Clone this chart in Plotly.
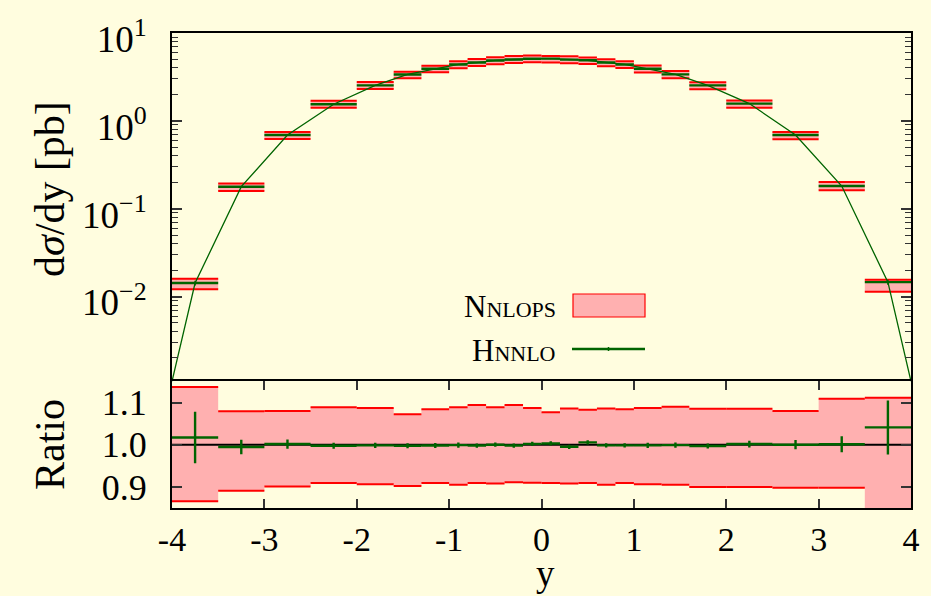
import plotly.graph_objects as go

# ---------------- data ----------------
bin_edges = [-4, -3.5, -3, -2.5, -2, -1.6, -1.3, -1, -0.8, -0.6, -0.4, -0.2, 0,
             0.2, 0.4, 0.6, 0.8, 1, 1.3, 1.6, 2, 2.5, 3, 3.5, 4]

nnlops_central = [0.0140, 0.179, 0.689, 1.55, 2.54, 3.38, 3.92, 4.39, 4.62, 4.87, 5.00, 5.09,
                  5.09, 5.00, 4.87, 4.62, 4.39, 3.92, 3.38, 2.54, 1.57, 0.689, 0.181, 0.0140]

nnlops_up_rel = [0.137, 0.079, 0.080, 0.089, 0.087, 0.072, 0.084, 0.089, 0.094, 0.089, 0.094, 0.087,
                 0.077, 0.086, 0.083, 0.086, 0.084, 0.087, 0.090, 0.085, 0.085, 0.080, 0.109, 0.111]

nnlops_down_rel = [-0.134, -0.109, -0.099, -0.091, -0.094, -0.098, -0.091, -0.095, -0.091, -0.092, -0.089, -0.090,
                   -0.091, -0.092, -0.091, -0.095, -0.091, -0.094, -0.095, -0.100, -0.100, -0.102, -0.102, -0.190]

hnnlo_ratio = [1.017, 0.9945, 1.0016, 0.9976, 0.9984, 0.9976, 0.998, 0.999, 0.998, 1.000, 0.998, 1.002,
               1.003, 0.995, 1.0055, 0.9984, 0.9984, 0.9984, 0.999, 0.997, 1.0016, 1.000, 1.001, 1.041]

hnnlo_err_rel = [0.061, 0.017, 0.011, 0.007, 0.006, 0.006, 0.006, 0.006, 0.005, 0.005, 0.005, 0.005,
                 0.005, 0.005, 0.005, 0.005, 0.005, 0.006, 0.006, 0.006, 0.008, 0.011, 0.019, 0.064]

hnnlo_edge_value = 1.08e-3   # curve end points at y = -4 and y = 4

x_tick_values = [-4, -3, -2, -1, 0, 1, 2, 3, 4]
x_tick_labels = ["-4", "-3", "-2", "-1", "0", "1", "2", "3", "4"]
log_tick_values = [0.01, 0.1, 1, 10]
log_tick_labels = ["10<sup>\u22122</sup>", "10<sup>\u22121</sup>", "10<sup>0</sup>", "10<sup>1</sup>"]
ratio_tick_values = [0.9, 1.0, 1.1]
ratio_tick_labels = ["0.9", "1.0", "1.1"]

# ---------------- derived ----------------
lo_e = bin_edges[:-1]
hi_e = bin_edges[1:]
centers = [(a + b) / 2 for a, b in zip(lo_e, hi_e)]
halfw = [(b - a) / 2 for a, b in zip(lo_e, hi_e)]
hnnlo = [c * r for c, r in zip(nnlops_central, hnnlo_ratio)]

top_up = [c * (1 + u) for c, u in zip(nnlops_central, nnlops_up_rel)]
top_dn = [c * (1 + d) for c, d in zip(nnlops_central, nnlops_down_rel)]
rat_up = [1 + u for u in nnlops_up_rel]
rat_dn = [1 + d for d in nnlops_down_rel]


def rects(lows, highs):
    xs, ys = [], []
    for a, b, l, h in zip(lo_e, hi_e, lows, highs):
        xs += [a, b, b, a, a, None]
        ys += [l, l, h, h, l, None]
    return xs, ys


def hsegs(vals):
    xs, ys = [], []
    for a, b, v in zip(lo_e, hi_e, vals):
        xs += [a, b, None]
        ys += [v, v, None]
    return xs, ys


PINK = "#FFB0B0"
RED = "#FF0000"
GREEN = "#006400"
BG = "#FFFDDF"
FONT = "Liberation Serif"

fig = go.Figure()

# ---- top panel ----
bx, by = rects(top_dn, top_up)
fig.add_trace(go.Scatter(x=bx, y=by, fill="toself", fillcolor=PINK, mode="lines",
                         line=dict(width=0), xaxis="x", yaxis="y", showlegend=False, hoverinfo="skip"))
for vals in (top_up, top_dn):
    sx, sy = hsegs(vals)
    fig.add_trace(go.Scatter(x=sx, y=sy, mode="lines", line=dict(color=RED, width=2),
                             xaxis="x", yaxis="y", showlegend=False, hoverinfo="skip"))
fig.add_trace(go.Scatter(x=[bin_edges[0]] + centers + [bin_edges[-1]],
                         y=[hnnlo_edge_value] + hnnlo + [hnnlo_edge_value],
                         mode="lines", line=dict(color=GREEN, width=1.3),
                         xaxis="x", yaxis="y", showlegend=False))
fig.add_trace(go.Scatter(x=centers, y=hnnlo, mode="markers", marker=dict(size=1, color=GREEN),
                         error_x=dict(type="data", array=halfw, width=0, thickness=2.4, color=GREEN),
                         error_y=dict(type="data", array=[h * e for h, e in zip(hnnlo, hnnlo_err_rel)],
                                      width=0, thickness=1.5, color=GREEN),
                         xaxis="x", yaxis="y", showlegend=False))

# ---- ratio panel ----
rx, ry = rects(rat_dn, rat_up)
fig.add_trace(go.Scatter(x=rx, y=ry, fill="toself", fillcolor=PINK, mode="lines",
                         line=dict(width=0), xaxis="x2", yaxis="y2", showlegend=False, hoverinfo="skip"))
for vals in (rat_up, rat_dn):
    sx, sy = hsegs(vals)
    fig.add_trace(go.Scatter(x=sx, y=sy, mode="lines", line=dict(color=RED, width=2),
                             xaxis="x2", yaxis="y2", showlegend=False, hoverinfo="skip"))
fig.add_trace(go.Scatter(x=[bin_edges[0], bin_edges[-1]], y=[1, 1], mode="lines",
                         line=dict(color="black", width=2), xaxis="x2", yaxis="y2",
                         showlegend=False, hoverinfo="skip"))
fig.add_trace(go.Scatter(x=centers, y=hnnlo_ratio, mode="markers", marker=dict(size=1, color=GREEN),
                         error_x=dict(type="data", array=halfw, width=0, thickness=2.4, color=GREEN),
                         error_y=dict(type="data", array=hnnlo_err_rel, width=0, thickness=2.4, color=GREEN),
                         xaxis="x2", yaxis="y2", showlegend=False))

# ---------------- layout ----------------
L, R, T, B = 172, 20, 33, 88
W, H = 931, 596
pw, ph = W - L - R, H - T - B


def px(xp):
    return (xp - L) / pw


def py(yp):
    return (H - B - yp) / ph


split = 126.6 / ph
TICKC = "#333333"

axis_common = dict(showline=True, linecolor="black", linewidth=2, showgrid=False, zeroline=False,
                   tickcolor=TICKC, tickwidth=1.5)

fig.update_layout(
    width=W, height=H,
    margin=dict(l=L, r=R, t=T, b=B),
    paper_bgcolor=BG, plot_bgcolor=BG,
    font=dict(family=FONT, color="black", size=35),
    showlegend=False,
    xaxis=dict(domain=[0, 1], anchor="y", side="top", range=[-4, 4], showticklabels=False, ticks="",
               mirror=False, **axis_common),
    yaxis=dict(domain=[split, 1], anchor="x", type="log", range=[-2.966, 1],
               tickmode="array", tickvals=log_tick_values, ticktext=log_tick_labels,
               ticks="inside", ticklen=10, mirror="allticks", tickfont=dict(size=37),
               ticklabelstandoff=16, ticklabelshift=6,
               minor=dict(ticks="inside", ticklen=6, tickcolor=TICKC, tickwidth=1.2, dtick="D1",
                          showgrid=False),
               **axis_common),
    xaxis2=dict(domain=[0, 1], anchor="y2", range=[-4, 4], tickmode="array",
                tickvals=x_tick_values, ticktext=x_tick_labels, ticks="inside", ticklen=9,
                mirror="allticks", tickfont=dict(size=34), ticklabelstandoff=0, **axis_common),
    yaxis2=dict(domain=[0, split], anchor="x2", range=[0.85, 1.15], tickmode="array",
                tickvals=ratio_tick_values, ticktext=ratio_tick_labels, ticks="inside", ticklen=10,
                mirror="allticks", tickfont=dict(size=36), ticklabelstandoff=16, **axis_common),
)

ann = []
ann.append(dict(text="d<i>σ</i>/dy [pb]", x=px(50), y=py(189), xref="paper", yref="paper",
                textangle=-90, showarrow=False, xanchor="center", yanchor="middle",
                font=dict(size=42, family=FONT)))
ann.append(dict(text="Ratio", x=px(50), y=py(445), xref="paper", yref="paper",
                textangle=-90, showarrow=False, xanchor="center", yanchor="middle",
                font=dict(size=42, family=FONT)))
ann.append(dict(text="y", x=px(545), y=py(573), xref="paper", yref="paper",
                showarrow=False, xanchor="center", yanchor="middle",
                font=dict(size=37, family=FONT)))
ann.append(dict(text="Nnlops", x=px(558), y=py(306), xref="paper", yref="paper",
                showarrow=False, xanchor="right", yanchor="middle",
                font=dict(size=31, family=FONT, variant="small-caps")))
ann.append(dict(text="Hnnlo", x=px(558), y=py(350), xref="paper", yref="paper",
                showarrow=False, xanchor="right", yanchor="middle",
                font=dict(size=31, family=FONT, variant="small-caps")))
fig.update_layout(annotations=ann)

shapes = [
    dict(type="rect", xref="paper", yref="paper", x0=px(573), x1=px(645), y0=py(317), y1=py(294),
         fillcolor=PINK, line=dict(color=RED, width=1.2)),
    dict(type="line", xref="paper", yref="paper", x0=px(572), x1=px(645), y0=py(349), y1=py(349),
         line=dict(color=GREEN, width=2.4)),
    dict(type="line", xref="paper", yref="paper", x0=px(608.5), x1=px(608.5), y0=py(347), y1=py(351),
         line=dict(color=GREEN, width=1.5)),
]
fig.update_layout(shapes=shapes)

fig.write_html("out.html", config={"displayModeBar": False},
               post_script="document.body.style.margin='0px';")
